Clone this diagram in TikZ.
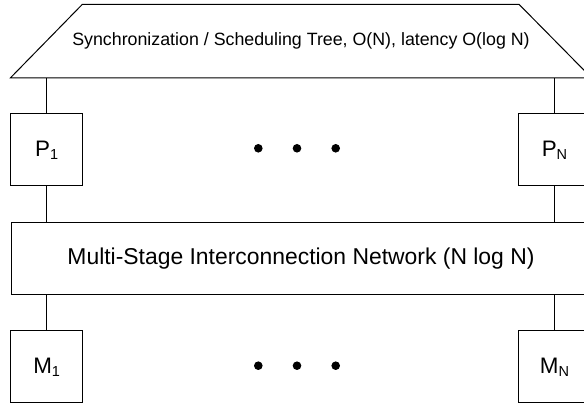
\documentclass[tikz,border=0pt]{standalone}
\usepackage{fontspec}
\setmainfont{Liberation Sans}
\newcommand\mysub[1]{\raisebox{-3.3pt}{\fontsize{14.5}{14.5}\selectfont #1}}
\begin{document}
\begin{tikzpicture}[x=1pt,y=-1pt,line width=1pt,
  unitbox/.style={draw, minimum width=72pt, minimum height=72pt, inner sep=0pt, font=\fontsize{22.4}{26}\selectfont},
  wide/.style={minimum width=580pt, minimum height=72.3pt, inner sep=0pt},
  link/.style={draw},
  dotmark/.style={fill, circle, inner sep=0pt, minimum size=8.6pt}]
\useasboundingbox (0,0) rectangle (584,403);
\clip (0,0) rectangle (584,403);
% tree
\node[wide, font=\fontsize{17.8}{21}\selectfont] (tree) at (301,41.15) {Synchronization / Scheduling Tree, O(N), latency O(log N)};
\draw (tree.south west) -- ([xshift=71.7pt]tree.north west) -- ([xshift=-72.3pt]tree.north east) -- (tree.south east) -- cycle;
% processors
\node[unitbox] (P1) at (46.7,150) {P\mysub{1}};
\node[unitbox] (PN) at (554.5,150) {P\mysub{N}};
% network
\node[wide, draw, font=\fontsize{22.9}{27}\selectfont] (net) at (301,258.85) {Multi-Stage Interconnection Network (N log N)};
% memories
\node[unitbox] (M1) at (46.7,367) {M\mysub{1}};
\node[unitbox] (MN) at (554.5,367) {M\mysub{N}};
% connectors
\draw[link] (P1.north) -- (P1.north |- tree.south);
\draw[link] (PN.north) -- (PN.north |- tree.south);
\draw[link] (P1.south) -- (P1.south |- net.north);
\draw[link] (PN.south) -- (PN.south |- net.north);
\draw[link] (M1.north) -- (M1.north |- net.south);
\draw[link] (MN.north) -- (MN.north |- net.south);
% dots
\node[dotmark] (pd1) at (258.3,148.3) {};
\node[dotmark] (pd2) at (297,148.3) {};
\node[dotmark] (pd3) at (335.7,148.3) {};
\node[dotmark] (md1) at (258.3,365.7) {};
\node[dotmark] (md2) at (297,365.7) {};
\node[dotmark] (md3) at (335.7,365.7) {};
\end{tikzpicture}
\end{document}
